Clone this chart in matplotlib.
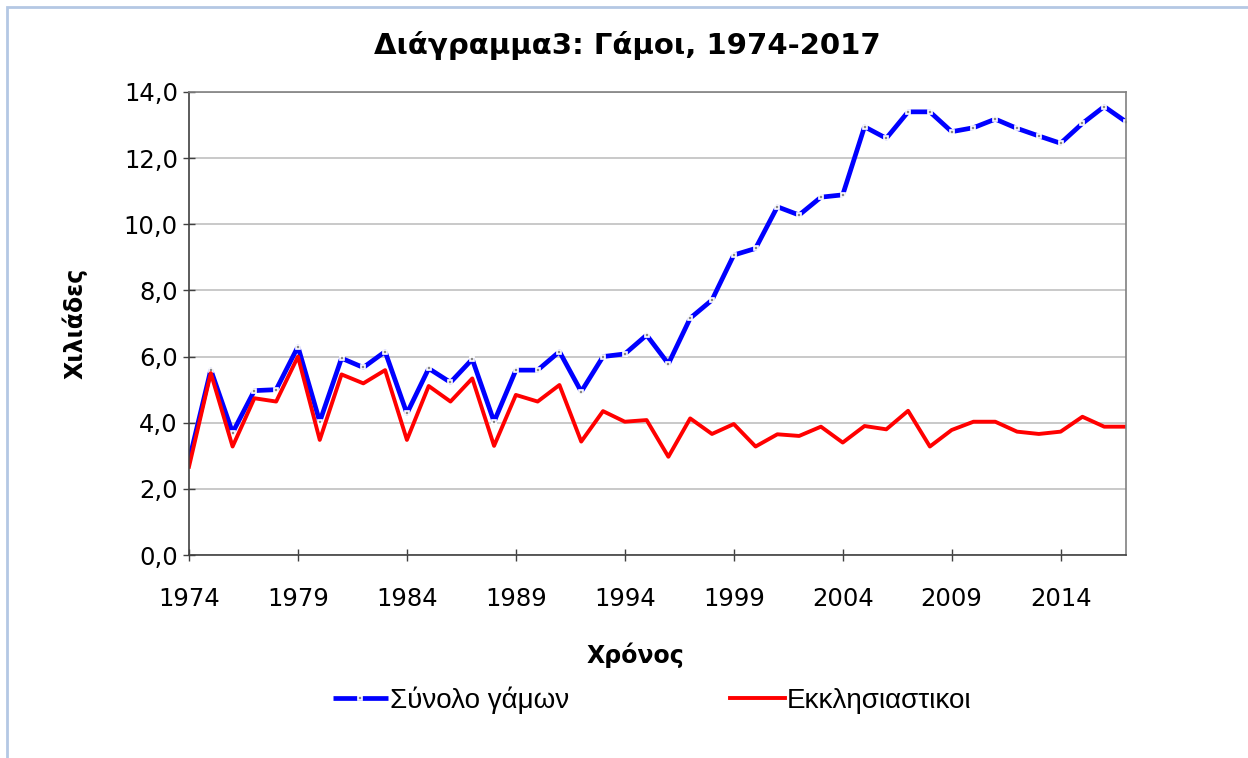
import numpy as np
import matplotlib.pyplot as plt
from matplotlib.patches import Rectangle
from matplotlib.ticker import FuncFormatter, MultipleLocator

years = list(range(1974, 2018))

total = [2.85, 5.6, 3.7, 4.97, 5.0, 6.3, 4.03, 5.95, 5.67, 6.15,
         4.28, 5.64, 5.22, 5.92, 4.03, 5.59, 5.59, 6.15, 4.94, 6.0,
         6.08, 6.65, 5.78, 7.16, 7.71, 9.07, 9.27, 10.53, 10.28, 10.82,
         10.89, 12.95, 12.6, 13.4, 13.4, 12.8, 12.92, 13.18, 12.9, 12.67,
         12.45, 13.05, 13.56, 13.1]

church = [2.67, 5.5, 3.28, 4.74, 4.64, 6.0, 3.48, 5.46, 5.19, 5.59,
          3.48, 5.11, 4.64, 5.34, 3.3, 4.84, 4.64, 5.14, 3.43, 4.35,
          4.03, 4.08, 2.97, 4.13, 3.66, 3.96, 3.28, 3.65, 3.6, 3.88,
          3.4, 3.9, 3.8, 4.36, 3.28, 3.78, 4.03, 4.03, 3.73, 3.66,
          3.73, 4.18, 3.88, 3.88]

W, H = 1248, 758
fig = plt.figure(figsize=(W / 100, H / 100), dpi=100)

# light blue frame of the chart area (runs off the right and bottom edges)
fig.patches.append(Rectangle((7 / W, -0.1), 1.2, 1.1 - 7 / H,
                             transform=fig.transFigure, fill=False,
                             edgecolor='#b4c8e4', linewidth=2))

ax = fig.add_axes([189 / W, 1 - 555 / H, (1126 - 189) / W, (555 - 92) / H])

ax.plot(years, total, color='#0000ff', linewidth=3.4, solid_capstyle='butt',
        marker='s', markersize=3.5, markerfacecolor='#888888',
        markeredgecolor='white', markeredgewidth=1.2, label='Σύνολο γάμων')
ax.plot(years, church, color='#ff0000', linewidth=2.8, label='Εκκλησιαστικοι')

ax.set_xlim(1974, 2017)
ax.set_ylim(0, 14)
ax.set_xticks(range(1974, 2018, 5))
ax.yaxis.set_major_locator(MultipleLocator(2))
ax.yaxis.set_major_formatter(FuncFormatter(lambda v, p: ('%.1f' % v).replace('.', ',')))
ax.grid(axis='y', color='#c0c0c0', linewidth=1.2)
ax.set_axisbelow(True)

for s in ['top', 'right']:
    ax.spines[s].set_color('#808080')
    ax.spines[s].set_linewidth(1.2)
for s in ['left', 'bottom']:
    ax.spines[s].set_color('#404040')
    ax.spines[s].set_linewidth(1.2)

ax.tick_params(direction='inout', length=8, width=1, color='#404040',
               labelsize=17.5)
ax.tick_params(axis='y', pad=4)
ax.tick_params(axis='x', pad=19)

fig.text(627 / W, 1 - 45 / H, 'Διάγραμμα3: Γάμοι, 1974-2017', fontsize=21,
         fontweight='bold', ha='center', va='center')
ax.set_xlabel('Χρόνος', fontsize=17, fontweight='bold')
ax.xaxis.set_label_coords((635 - 189) / 937, (555 - 655) / 463)
ax.set_ylabel('Χιλιάδες', fontsize=17, fontweight='bold')
ax.yaxis.set_label_coords((75 - 189) / 937, 0.5)
ax.xaxis.label.set_va('center')
ax.yaxis.label.set_va('center')

fig.legend(loc='center', bbox_to_anchor=(652 / W, 1 - 700 / H), ncol=2, frameon=False,
           prop={'family': 'Liberation Sans', 'size': 20}, columnspacing=5.8,
           handlelength=2.0, handletextpad=0.05)

fig.savefig('out.png', dpi=100, facecolor='white')
